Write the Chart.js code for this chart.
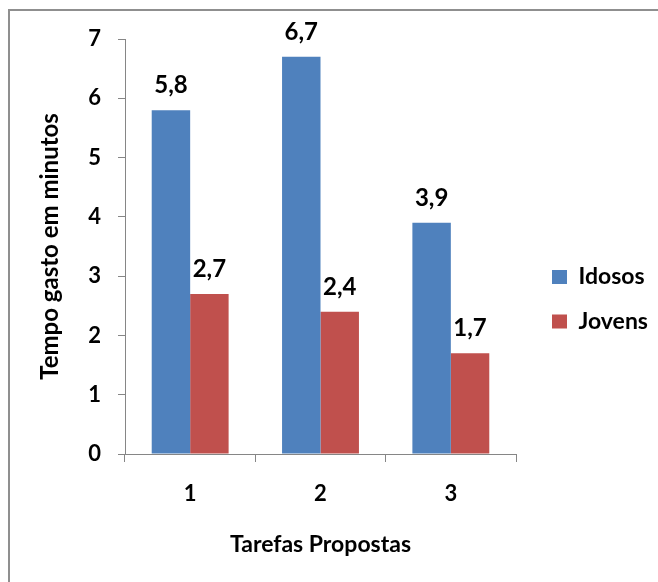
<!DOCTYPE html>
<html>
<head>
<meta charset="utf-8">
<script src="https://cdn.jsdelivr.net/npm/chart.js@4.4.0/dist/chart.umd.min.js"></script>
<style>
  html, body { margin: 0; padding: 0; background: #fff; overflow: hidden; }
  #wrap { position: relative; width: 658px; height: 582px; overflow: hidden; }
  #frame {
    position: absolute; left: 8px; top: 9px; width: 700px; height: 620px;
    border-top: 2px solid #8f8f8f; border-left: 2px solid #8f8f8f;
  }
  canvas { position: absolute; left: 0; top: 0; }
</style>
</head>
<body>
<div id="wrap">
  <div id="frame"></div>
  <canvas id="chart" width="658" height="582"></canvas>
</div>
<script>
// Tarefas (categorias) e tempos médios em minutos
const tasks = ['1', '2', '3'];
const seriesNames = ['Idosos', 'Jovens'];
const idosos = [5.8, 6.7, 3.9];
const jovens = [2.7, 2.4, 1.7];
const yTickValues = [0, 1, 2, 3, 4, 5, 6, 7];
const xTitle = 'Tarefas Propostas';
const yTitle = 'Tempo gasto em minutos';

const BLUE = '#4F81BD';
const RED = '#C0504D';
const AXIS = '#868686';
const FONT = 'Lato, "Open Sans", sans-serif';

Chart.defaults.font.family = FONT;
Chart.defaults.font.weight = 'bold';
Chart.defaults.color = '#000';

const fmt = v => v.toFixed(1).replace('.', ',');

// Value labels above each bar, placed from the bar elements' own coordinates
const valueLabels = {
  id: 'valueLabels',
  afterDatasetsDraw(chart) {
    const ctx = chart.ctx;
    ctx.save();
    ctx.font = 'bold 24px ' + FONT;
    ctx.fillStyle = '#000';
    ctx.textAlign = 'center';
    ctx.textBaseline = 'alphabetic';
    chart.data.datasets.forEach((ds, i) => {
      chart.getDatasetMeta(i).data.forEach((bar, j) => {
        ctx.fillText(fmt(ds.data[j]), bar.x, bar.y - 17);
      });
    });
    ctx.restore();
  }
};

// Place the legend column to the right of the plot
const legendPlacer = {
  id: 'legendPlacer',
  afterLayout(chart) {
    const lg = chart.legend;
    if (!lg) return;
    const w = lg.width;
    lg.left = 552 - lg.options.labels.padding;
    lg.right = lg.left + w;
    lg.top = 244;
  }
};

new Chart(document.getElementById('chart'), {
  type: 'bar',
  data: {
    labels: tasks,
    datasets: [
      { label: seriesNames[0], data: idosos, backgroundColor: BLUE, borderWidth: 0 },
      { label: seriesNames[1], data: jovens, backgroundColor: RED, borderWidth: 0 }
    ]
  },
  options: {
    responsive: false,
    animation: false,
    devicePixelRatio: 1,
    layout: { padding: { top: 39, right: 142, bottom: 0, left: 0 } },
    datasets: { bar: { categoryPercentage: 0.59, barPercentage: 1.0 } },
    plugins: {
      tooltip: { enabled: false },
      legend: {
        position: 'chartArea',
        align: 'start',
        labels: {
          boxWidth: 15,
          boxHeight: 14,
          padding: 21.5,
          color: '#000',
          font: { size: 23, weight: 'bold', family: FONT }
        }
      }
    },
    scales: {
      x: {
        border: { display: true, color: AXIS, width: 1 },
        grid: { display: true, drawOnChartArea: false, drawTicks: true, tickLength: 8, color: AXIS, offset: true },
        ticks: { padding: 19, color: '#000', font: { size: 22, weight: 'bold', family: FONT } },
        title: {
          display: true, text: xTitle, color: '#000',
          font: { size: 23, weight: 'bold', family: FONT },
          padding: { top: 0, bottom: 24 }
        },
        afterFit(scale) { scale.height = 128; }
      },
      y: {
        min: 0,
        max: 7,
        border: { display: true, color: AXIS, width: 1 },
        grid: { display: true, drawOnChartArea: false, drawTicks: true, tickLength: 7, color: AXIS },
        afterBuildTicks(scale) { scale.ticks = yTickValues.map(v => ({ value: v })); },
        ticks: { padding: 17, color: '#000', font: { size: 22, weight: 'bold', family: FONT } },
        title: {
          display: true, text: yTitle, color: '#000',
          font: { size: 24, weight: 'bold', family: FONT },
          padding: { top: 36, bottom: 0 }
        },
        afterFit(scale) { scale.width = 125; }
      }
    }
  },
  plugins: [valueLabels, legendPlacer]
});
</script>
</body>
</html>
